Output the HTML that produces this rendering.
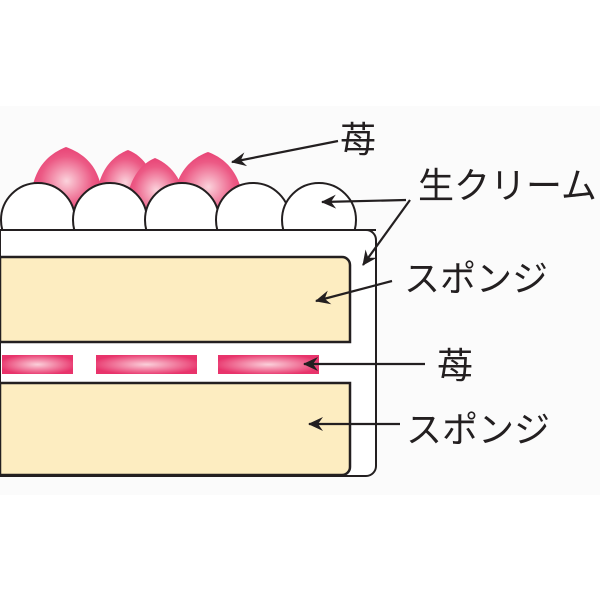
<!DOCTYPE html>
<html><head><meta charset="utf-8"><style>
html,body{margin:0;padding:0;background:#fff;}
svg{display:block;}
text{font-family:"Liberation Sans","Noto Sans CJK JP",sans-serif;fill:#231f20;}
</style></head><body>
<svg width="600" height="600" viewBox="0 0 600 600" xmlns="http://www.w3.org/2000/svg">
<defs>
<radialGradient id="sb" cx="0.5" cy="0.5" r="0.6">
<stop offset="0" stop-color="#fbd3dc"/><stop offset="0.6" stop-color="#ec5a85"/><stop offset="1" stop-color="#e5336a"/>
</radialGradient>
<radialGradient id="st" cx="0.5" cy="0.5" r="0.55">
<stop offset="0" stop-color="#fbd0da"/><stop offset="1" stop-color="#e8336b"/>
</radialGradient>
<marker id="ah" markerWidth="16" markerHeight="14" refX="14" refY="7" orient="auto" markerUnits="userSpaceOnUse" style="overflow:visible">
<path d="M15,7 L0,0 L5,7 L0,14 Z" fill="#231f20"/>
</marker>
<clipPath id="topclip"><rect x="0" y="0" width="600" height="230"/></clipPath>
</defs>
<rect x="0" y="106" width="600" height="389" fill="#fbfbfb"/>
<path d="M0,230 H366 a10,10 0 0 1 10,10 V466 a10,10 0 0 1 -10,10 H0 Z" fill="#fff" stroke="#231f20" stroke-width="2"/>
<path d="M0,257 H342 a8,8 0 0 1 8,8 V342 H0 Z" fill="#fdedc1" stroke="#231f20" stroke-width="2.5"/>
<path d="M0,383 H350 V467 a8,8 0 0 1 -8,8 H0 Z" fill="#fdedc1" stroke="#231f20" stroke-width="2.5"/>
<rect x="2" y="355" width="71" height="19" fill="url(#st)"/>
<rect x="96" y="355" width="101" height="19" fill="url(#st)"/>
<rect x="218" y="355" width="101" height="19" fill="url(#st)"/>
<path d="M31,215 C28,172 46,155 66,147 C88,155 106,172 102,215 Z" fill="url(#sb)"/>
<path d="M96,215 C94,175 110,157 128,150 C148,158 158,178 154,215 Z" fill="url(#sb)"/>
<path d="M126,222 C124,185 138,165 155,158 C174,166 188,185 186,222 Z" fill="url(#sb)"/>
<path d="M173,222 C170,180 186,160 208,152 C230,160 246,180 244,222 Z" fill="url(#sb)"/>
<g clip-path="url(#topclip)" fill="#fff" stroke="#231f20" stroke-width="2">
<circle cx="38" cy="220" r="37"/>
<circle cx="110" cy="220" r="37"/>
<circle cx="182" cy="220" r="37"/>
<circle cx="253" cy="220" r="37"/>
<circle cx="319" cy="220" r="37"/>
</g>
<line x1="0" y1="230" x2="376" y2="230" stroke="#231f20" stroke-width="2"/>
<g stroke="#231f20" stroke-width="2.2" fill="none">
<line x1="338" y1="141" x2="232" y2="162" marker-end="url(#ah)"/>
<line x1="406" y1="200" x2="322" y2="202" marker-end="url(#ah)"/>
<line x1="410" y1="200" x2="363" y2="265" marker-end="url(#ah)"/>
<line x1="392" y1="281" x2="316" y2="301" marker-end="url(#ah)"/>
<line x1="425" y1="364" x2="304" y2="364" marker-end="url(#ah)"/>
<line x1="400" y1="424" x2="309" y2="424" marker-end="url(#ah)"/>
</g>
<text x="340" y="152" font-size="36">苺</text>
<text x="418" y="198" font-size="36">生クリーム</text>
<text x="404" y="291" font-size="36">スポンジ</text>
<text x="437" y="378" font-size="36">苺</text>
<text x="406" y="442" font-size="36">スポンジ</text>
</svg>
</body></html>
